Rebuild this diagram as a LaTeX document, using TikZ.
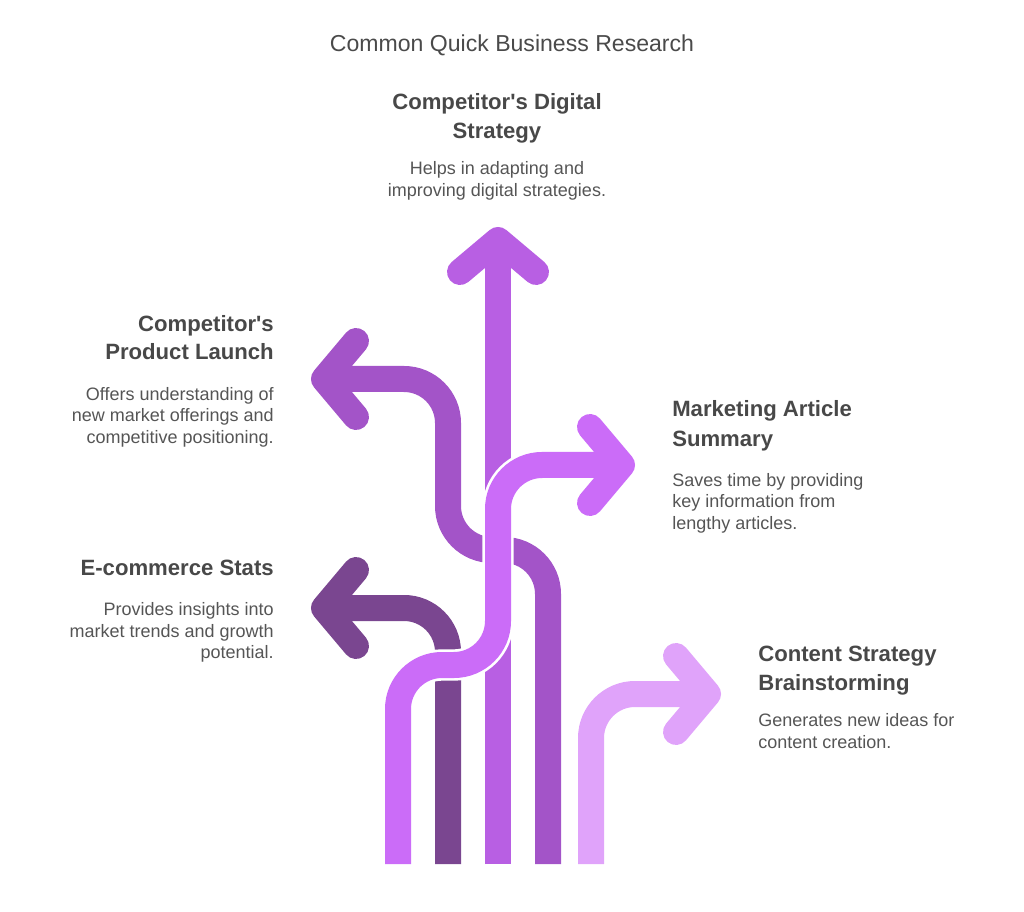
\documentclass[tikz,border=0pt]{standalone}
\usepackage{fontspec}
\setmainfont{Liberation Sans}
\definecolor{cDigital}{HTML}{B85FE3}
\definecolor{cProduct}{HTML}{A354C8}
\definecolor{cPink}{HTML}{CB6CF8}
\definecolor{cDark}{HTML}{7A4690}
\definecolor{cLight}{HTML}{E0A3FA}
\definecolor{cHead}{HTML}{484848}
\definecolor{cDesc}{HTML}{555555}
\definecolor{cTitle}{HTML}{4A4A4A}
\tikzset{
  band/.style={line width=19.5pt, rounded corners=33pt},
  chev/.style={line width=19.5pt, line join=round, line cap=round},
  halo/.style={line width=23.5pt, white, rounded corners=33pt},
  halochev/.style={line width=23.5pt, white, line join=round, line cap=round},
  ttl/.style={inner sep=0pt, text=cTitle, font=\fontsize{17.3pt}{20pt}\selectfont},
  hd/.style={inner sep=0pt, text=cHead, font=\fontsize{16.6pt}{20pt}\selectfont\bfseries},
  ds/.style={inner sep=0pt, text=cDesc, font=\fontsize{13.5pt}{16pt}\selectfont},
}
\begin{document}
\begin{tikzpicture}[x=0.75pt, y=-0.75pt]
\useasboundingbox (0,0) rectangle (1024,912);
% Digital strategy (straight up)
\draw[band, cDigital] (498,864) -- (498,240);
\draw[chev, cDigital] (460,272) -- (498,240) -- (536,272);
% Product launch (S-curve to the left)
\draw[band, cProduct] (548,864) -- (548,550) -- (448,550) -- (448,379) -- (324,379);
\draw[chev, cProduct] (356,341) -- (324,379) -- (356,417);
% E-commerce stats
\draw[band, cDark] (448,864) -- (448,608) -- (324,608);
\draw[chev, cDark] (356,570) -- (324,608) -- (356,646);
% Content strategy
\draw[band, cLight] (591,864) -- (591,694) -- (708,694);
\draw[chev, cLight] (676,656) -- (708,694) -- (676,732);
% Marketing article summary (on top, with white halo)
\draw[halo] (398,864) -- (398,665) -- (498,665) -- (498,465) -- (622,465);
\draw[halochev] (590,427) -- (622,465) -- (590,503);
\draw[band, cPink] (398,864) -- (398,665) -- (498,665) -- (498,465) -- (622,465);
\draw[chev, cPink] (590,427) -- (622,465) -- (590,503);
% Title
\node[ttl, anchor=base] (title) at (512,52) {Common Quick Business Research};
% Digital strategy text
\node[hd, anchor=base] (dh1) at (497,110) {Competitor\textquotesingle s Digital};
\node[hd, anchor=base] (dh2) at (497,139) {Strategy};
\node[ds, anchor=base] (dd1) at (497,175) {Helps in adapting and};
\node[ds, anchor=base] (dd2) at (497,197) {improving digital strategies.};
% Product launch text
\node[hd, anchor=base east] (ph1) at (274,332) {Competitor\textquotesingle s};
\node[hd, anchor=base east] (ph2) at (274,360) {Product Launch};
\node[ds, anchor=base east] (pd1) at (274,401) {Offers understanding of};
\node[ds, anchor=base east] (pd2) at (274,422) {new market offerings and};
\node[ds, anchor=base east] (pd3) at (274,444) {competitive positioning.};
% E-commerce text
\node[hd, anchor=base east] (eh1) at (274,575) {E-commerce Stats};
\node[ds, anchor=base east] (ed1) at (274,615) {Provides insights into};
\node[ds, anchor=base east] (ed2) at (274,637) {market trends and growth};
\node[ds, anchor=base east] (ed3) at (274,658) {potential.};
% Marketing text
\node[hd, anchor=base west] (mh1) at (672,417) {Marketing Article};
\node[hd, anchor=base west] (mh2) at (672,446) {Summary};
\node[ds, anchor=base west] (md1) at (672,487) {Saves time by providing};
\node[ds, anchor=base west] (md2) at (672,508) {key information from};
\node[ds, anchor=base west] (md3) at (672,529) {lengthy articles.};
% Content strategy text
\node[hd, anchor=base west] (ch1) at (758,661) {Content Strategy};
\node[hd, anchor=base west] (ch2) at (758,690) {Brainstorming};
\node[ds, anchor=base west] (cd1) at (758,726) {Generates new ideas for};
\node[ds, anchor=base west] (cd2) at (758,748) {content creation.};
\end{tikzpicture}
\end{document}
